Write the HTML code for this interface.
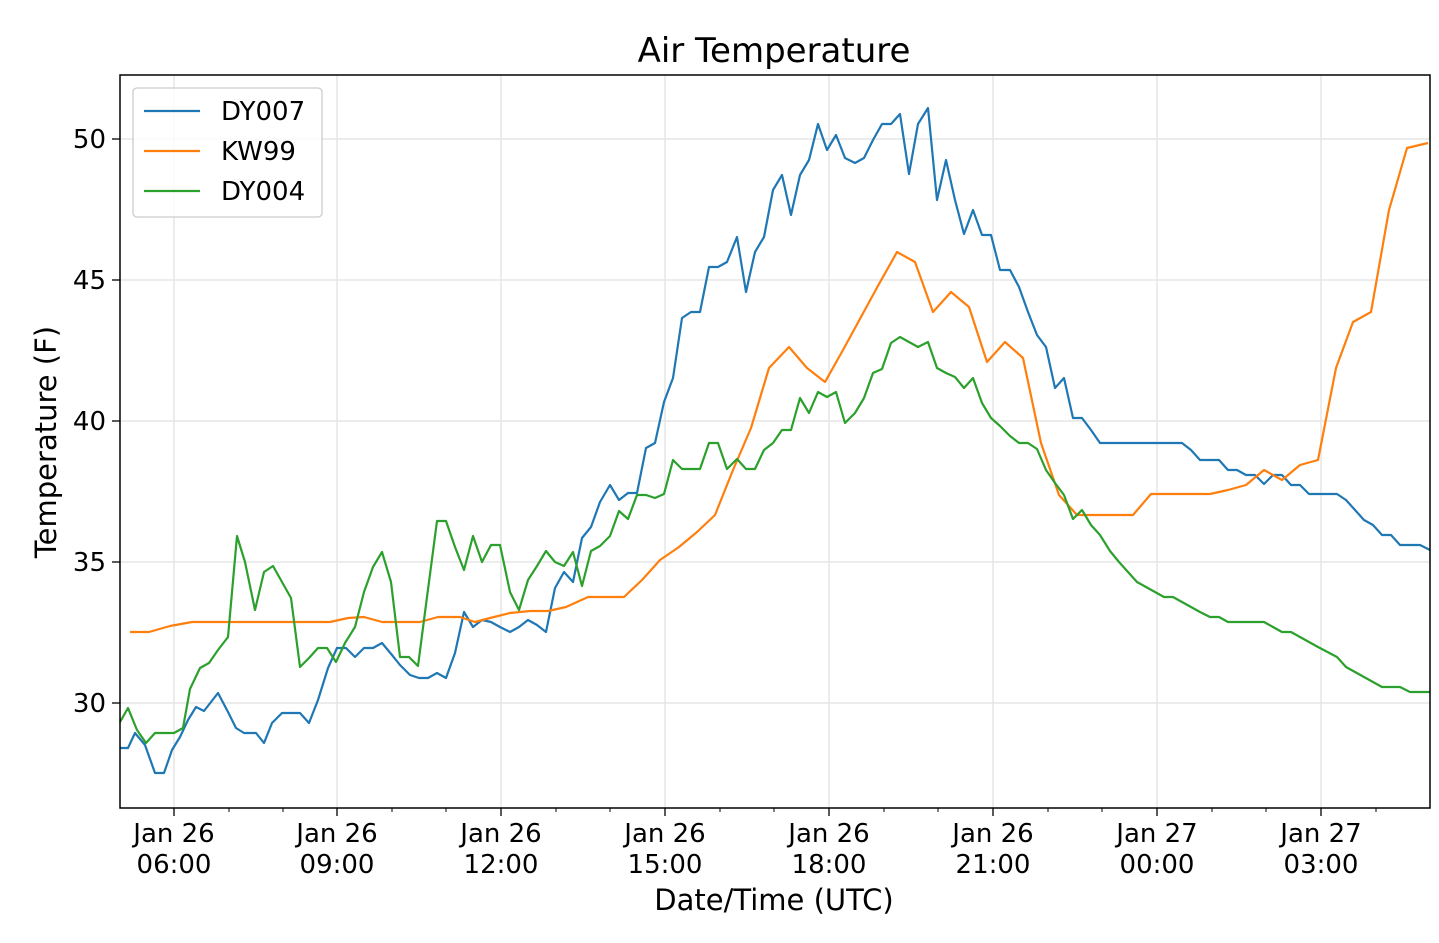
<!DOCTYPE html>
<html><head><meta charset="utf-8"><style>body{margin:0;background:#fff}svg{display:block}text{font-family:"DejaVu Sans","Liberation Sans",sans-serif;fill:#000}</style></head><body>
<svg width="1439" height="943" viewBox="0 0 1439 943" xmlns="http://www.w3.org/2000/svg">
<rect width="1439" height="943" fill="#fff"/>
<g stroke="#e6e6e6" stroke-width="1.5">
<line x1="174" y1="75" x2="174" y2="808"/><line x1="337" y1="75" x2="337" y2="808"/><line x1="501" y1="75" x2="501" y2="808"/><line x1="665" y1="75" x2="665" y2="808"/><line x1="829" y1="75" x2="829" y2="808"/><line x1="993" y1="75" x2="993" y2="808"/><line x1="1157" y1="75" x2="1157" y2="808"/><line x1="1321" y1="75" x2="1321" y2="808"/>
<line x1="120" y1="139" x2="1430" y2="139"/><line x1="120" y1="280" x2="1430" y2="280"/><line x1="120" y1="421" x2="1430" y2="421"/><line x1="120" y1="562" x2="1430" y2="562"/><line x1="120" y1="703" x2="1430" y2="703"/>
</g>
<g fill="none" stroke-width="2.2" stroke-linejoin="round">
<polyline stroke="#1f77b4" points="120,748 128,748 135,733 145,745 155,773 164,773 172,750 180,737 188,720 196,707 204,711 211,702 218,693 228,712 236,728 244,733 256,733 264,743 272,723 282,713 300,713 309,723 318,700 328,668 337,648 346,648 355,657 364,648 373,648 382,643 392,655 400,665 410,675 419,678 428,678 437,673 446,678 455,653 464,612 473,627 482,620 491,622 500,627 510,632 519,627 528,620 537,625 546,632 555,588 564,572 573,582 582,538 591,527 600,502 610,485 619,500 628,493 637,493 646,448 655,443 664,402 673,378 682,318 691,312 700,312 709,267 718,267 727,262 737,237 746,292 755,252 764,237 773,190 782,175 791,215 800,175 809,160 818,124 827,150 836,135 845,158 855,163 864,158 873,140 882,124 891,124 900,114 909,174 918,124 928,108 937,200 946,160 955,200 964,234 973,210 982,235 991,235 1000,270 1010,270 1019,287 1028,312 1037,335 1046,347 1055,388 1064,378 1073,418 1082,418 1091,430 1100,443 1110,443 1182,443 1191,450 1200,460 1219,460 1228,470 1237,470 1246,475 1255,475 1264,484 1273,475 1282,475 1291,485 1300,485 1309,494 1337,494 1346,500 1355,510 1364,520 1373,525 1382,535 1391,535 1400,545 1420,545 1430,550"/>
<polyline stroke="#ff7f0e" points="130,632 149,632 170,626 192,622 330,622 348,618 364,617 382,622 420,622 438,617 460,617 475,622 490,618 510,613 530,611 548,611 566,607 588,597 624,597 642,580 660,560 679,547 697,532 715,515 733,470 751,428 769,368 789,347 807,368 825,382 843,350 861,317 879,284 897,252 915,262 933,312 951,292 969,307 987,362 1005,342 1023,358 1041,443 1059,495 1077,515 1133,515 1151,494 1210,494 1228,490 1246,485 1264,470 1282,480 1300,465 1318,460 1336,368 1353,322 1371,312 1389,210 1407,148 1428,143"/>
<polyline stroke="#2ca02c" points="120,722 128,708 137,730 146,743 155,733 174,733 183,728 190,689 200,668 209,663 218,650 228,637 237,536 245,562 255,610 264,572 273,566 282,582 291,598 300,667 309,658 318,648 327,648 336,662 345,643 355,627 364,592 373,567 382,552 391,582 400,657 409,657 418,666 427,597 437,521 446,521 455,547 464,570 473,536 482,562 491,545 500,545 510,592 519,610 528,580 537,566 546,551 555,562 564,566 573,552 582,586 591,551 600,546 610,536 619,511 628,519 637,495 646,495 655,498 664,494 673,460 682,469 700,469 709,443 718,443 727,469 737,459 746,469 755,469 764,450 773,443 782,430 791,430 800,398 809,413 818,392 827,397 836,392 845,423 855,413 864,398 873,373 882,369 891,343 900,337 909,342 918,347 928,342 937,368 946,373 955,377 964,388 973,378 982,403 991,418 1000,426 1010,436 1019,443 1028,443 1037,449 1046,470 1055,483 1064,495 1073,519 1082,510 1091,525 1100,535 1110,551 1119,562 1128,572 1137,582 1146,587 1155,592 1164,597 1173,597 1182,602 1191,607 1200,612 1210,617 1219,617 1228,622 1264,622 1273,627 1282,632 1291,632 1300,637 1309,642 1318,647 1337,657 1346,667 1364,677 1382,687 1400,687 1410,692 1430,692"/>
</g>
<rect x="120" y="75" width="1310" height="733" fill="none" stroke="#000" stroke-width="1.5"/>
<g stroke="#000" stroke-width="1.3">
<line x1="174" y1="808" x2="174" y2="816"/><line x1="337" y1="808" x2="337" y2="816"/><line x1="501" y1="808" x2="501" y2="816"/><line x1="665" y1="808" x2="665" y2="816"/><line x1="829" y1="808" x2="829" y2="816"/><line x1="993" y1="808" x2="993" y2="816"/><line x1="1157" y1="808" x2="1157" y2="816"/><line x1="1321" y1="808" x2="1321" y2="816"/>
<line x1="112" y1="139" x2="120" y2="139"/><line x1="112" y1="280" x2="120" y2="280"/><line x1="112" y1="421" x2="120" y2="421"/><line x1="112" y1="562" x2="120" y2="562"/><line x1="112" y1="703" x2="120" y2="703"/>
</g>
<g stroke="#000" stroke-width="1"><line x1="229" y1="808" x2="229" y2="812"/><line x1="283" y1="808" x2="283" y2="812"/><line x1="392" y1="808" x2="392" y2="812"/><line x1="446" y1="808" x2="446" y2="812"/><line x1="556" y1="808" x2="556" y2="812"/><line x1="610" y1="808" x2="610" y2="812"/><line x1="720" y1="808" x2="720" y2="812"/><line x1="774" y1="808" x2="774" y2="812"/><line x1="884" y1="808" x2="884" y2="812"/><line x1="938" y1="808" x2="938" y2="812"/><line x1="1048" y1="808" x2="1048" y2="812"/><line x1="1102" y1="808" x2="1102" y2="812"/><line x1="1212" y1="808" x2="1212" y2="812"/><line x1="1266" y1="808" x2="1266" y2="812"/><line x1="1376" y1="808" x2="1376" y2="812"/></g>
<g font-size="26" text-anchor="end"><text x="106" y="148">50</text><text x="106" y="289">45</text><text x="106" y="430">40</text><text x="106" y="571">35</text><text x="106" y="712">30</text></g>
<g font-size="26" text-anchor="middle">
<text x="174" y="842">Jan 26</text><text x="174" y="873">06:00</text>
<text x="337" y="842">Jan 26</text><text x="337" y="873">09:00</text>
<text x="501" y="842">Jan 26</text><text x="501" y="873">12:00</text>
<text x="665" y="842">Jan 26</text><text x="665" y="873">15:00</text>
<text x="829" y="842">Jan 26</text><text x="829" y="873">18:00</text>
<text x="993" y="842">Jan 26</text><text x="993" y="873">21:00</text>
<text x="1157" y="842">Jan 27</text><text x="1157" y="873">00:00</text>
<text x="1321" y="842">Jan 27</text><text x="1321" y="873">03:00</text>
<text x="774" y="910" font-size="29">Date/Time (UTC)</text>
<text x="774" y="62" font-size="34">Air Temperature</text>
<text transform="translate(56,442) rotate(-90)" font-size="29">Temperature (F)</text>
</g>
<rect x="133" y="88" width="189" height="129" rx="4" fill="#fff" fill-opacity="0.8" stroke="#ccc" stroke-width="1.3"/>
<g stroke-width="2.2"><line x1="144" y1="111" x2="200" y2="111" stroke="#1f77b4"/><line x1="144" y1="151" x2="200" y2="151" stroke="#ff7f0e"/><line x1="144" y1="191" x2="200" y2="191" stroke="#2ca02c"/></g>
<g font-size="26"><text x="221" y="120">DY007</text><text x="221" y="160">KW99</text><text x="221" y="200">DY004</text></g>
</svg>
</body></html>
